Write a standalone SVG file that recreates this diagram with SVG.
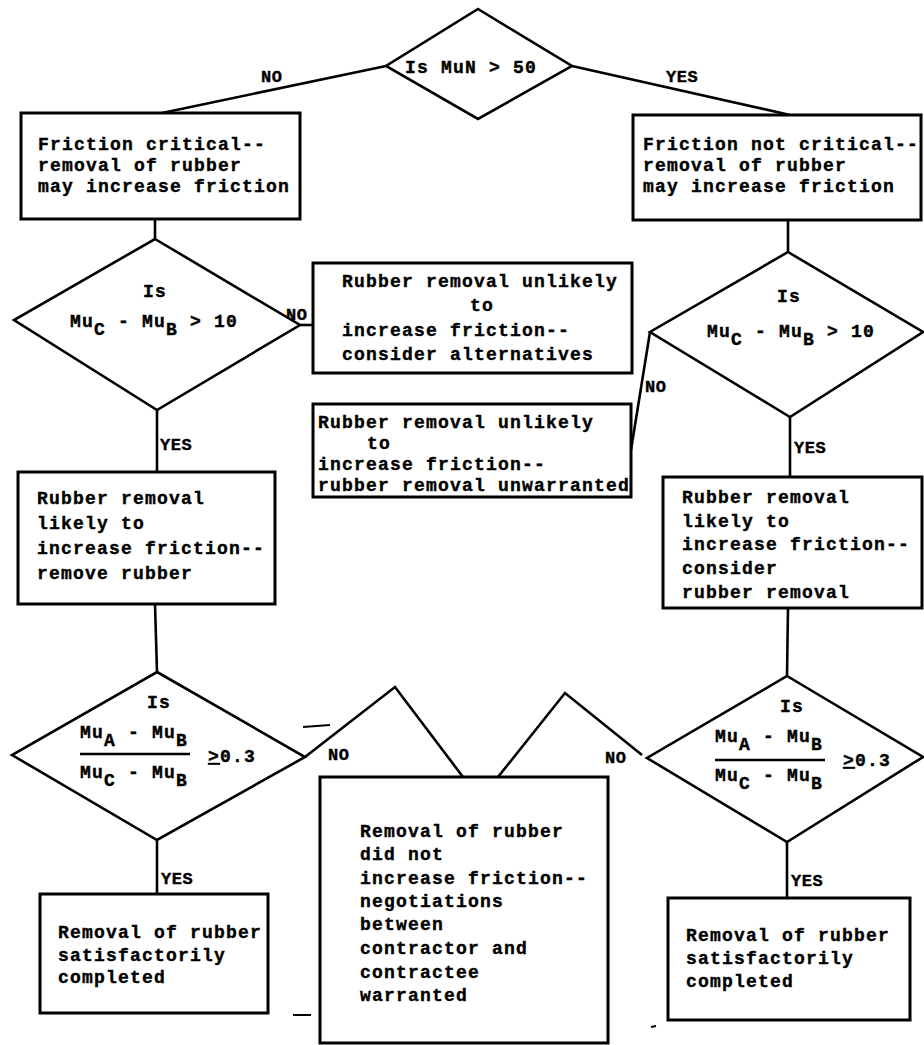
<svg xmlns="http://www.w3.org/2000/svg" width="924" height="1045" viewBox="0 0 924 1045">
  <defs>
    <style>
      .box { fill: #fff; stroke: #000; stroke-width: 3; }
      .dia { fill: #fff; stroke: #000; stroke-width: 2.6; stroke-linejoin: miter; }
      .conn line, .conn polyline { fill: none; stroke: #000; stroke-width: 2.6; }
      .mark { stroke: #000; stroke-width: 2; }
      text { font-family: "Liberation Mono", "DejaVu Sans Mono", monospace; font-weight: bold; font-size: 18px; letter-spacing: 1.2px; fill: #000; stroke: #000; stroke-width: 0.4; }
      .lbl { font-size: 17px; letter-spacing: 0.5px; }
      .fr { stroke: #000; stroke-width: 2.4; }
    </style>
  </defs>

  <rect width="924" height="1045" fill="#fff"/>

  <!-- connectors -->
  <g id="connectors" class="conn">
    <line x1="386" y1="66" x2="162" y2="113"/>
    <line x1="572" y1="66" x2="790" y2="115"/>
    <line x1="155" y1="219" x2="155" y2="239"/>
    <line x1="788" y1="220" x2="788" y2="252"/>
    <line x1="300" y1="325" x2="313" y2="325"/>
    <line x1="157" y1="410" x2="157" y2="472"/>
    <line x1="650" y1="332" x2="631" y2="450"/>
    <line x1="790" y1="417" x2="790" y2="477"/>
    <line x1="155" y1="604" x2="157" y2="672"/>
    <line x1="788" y1="608" x2="787" y2="676"/>
    <polyline points="305,757 395,687 463,777"/>
    <polyline points="498,777 565,693 642,755"/>
    <line x1="157" y1="840" x2="157" y2="894"/>
    <line x1="787" y1="842" x2="787" y2="898"/>
    <!-- branch labels -->
    <text class="lbl" x="261" y="82">NO</text>
    <text class="lbl" x="666" y="82">YES</text>
    <text class="lbl" x="286" y="320">NO</text>
    <text class="lbl" x="645" y="392">NO</text>
    <text class="lbl" x="160" y="450">YES</text>
    <text class="lbl" x="794" y="453">YES</text>
    <text class="lbl" x="328" y="760">NO</text>
    <text class="lbl" x="605" y="763">NO</text>
    <text class="lbl" x="161" y="884">YES</text>
    <text class="lbl" x="791" y="886">YES</text>
  </g>

  <!-- decision: MuN -->
  <g id="d-mun">
    <polygon class="dia" points="478,9 572,66 478,119 386,66"/>
    <text x="471" y="73" text-anchor="middle">Is MuN &gt; 50</text>
  </g>

  <g id="b-critical">
    <rect class="box" x="21" y="113" width="279" height="106"/>
    <text x="38" y="150">Friction critical--</text>
    <text x="38" y="171">removal of rubber</text>
    <text x="38" y="192">may increase friction</text>
  </g>

  <g id="b-not-critical">
    <rect class="box" x="633" y="115" width="288" height="105"/>
    <text x="643" y="150">Friction not critical--</text>
    <text x="643" y="171">removal of rubber</text>
    <text x="643" y="192">may increase friction</text>
  </g>

  <!-- decision: MuC - MuB, left -->
  <g id="d-cb-left">
    <polygon class="dia" points="155,239 300,325 157,410 14,320"/>
    <text x="143" y="297">Is</text>
    <text x="70" y="327">Mu<tspan dy="8">C</tspan><tspan dy="-8"> - Mu</tspan><tspan dy="8">B</tspan><tspan dy="-8"> &gt; 10</tspan></text>
  </g>

  <!-- decision: MuC - MuB, right -->
  <g id="d-cb-right">
    <polygon class="dia" points="788,252 923,332 790,417 650,332"/>
    <text x="777" y="302">Is</text>
    <text x="707" y="337">Mu<tspan dy="8">C</tspan><tspan dy="-8"> - Mu</tspan><tspan dy="8">B</tspan><tspan dy="-8"> &gt; 10</tspan></text>
  </g>

  <g id="b-alternatives">
    <rect class="box" x="313" y="263" width="319" height="110"/>
    <text x="342" y="287">Rubber removal unlikely</text>
    <text x="470" y="311">to</text>
    <text x="342" y="336">increase friction--</text>
    <text x="342" y="360">consider alternatives</text>
  </g>

  <g id="b-unwarranted">
    <rect class="box" x="313" y="404" width="318" height="93"/>
    <text x="318" y="428">Rubber removal unlikely</text>
    <text x="367" y="449">to</text>
    <text x="318" y="470">increase friction--</text>
    <text x="318" y="491">rubber removal unwarranted</text>
  </g>

  <g id="b-remove">
    <rect class="box" x="18" y="472" width="257" height="132"/>
    <text x="37" y="504">Rubber removal</text>
    <text x="37" y="529">likely to</text>
    <text x="37" y="554">increase friction--</text>
    <text x="37" y="579">remove rubber</text>
  </g>

  <g id="b-consider">
    <rect class="box" x="663" y="477" width="259" height="131"/>
    <text x="682" y="503">Rubber removal</text>
    <text x="682" y="527">likely to</text>
    <text x="682" y="550">increase friction--</text>
    <text x="682" y="574">consider</text>
    <text x="682" y="598">rubber removal</text>
  </g>

  <!-- decision: ratio, left -->
  <g id="d-ratio-left">
    <polygon class="dia" points="157,672 305,757 157,840 12,755"/>
    <text x="147" y="708">Is</text>
    <text x="80" y="738">Mu<tspan dy="8">A</tspan><tspan dy="-8"> - Mu</tspan><tspan dy="8">B</tspan></text>
    <line class="fr" x1="80" y1="754" x2="190" y2="754"/>
    <text x="80" y="778">Mu<tspan dy="8">C</tspan><tspan dy="-8"> - Mu</tspan><tspan dy="8">B</tspan></text>
    <text x="208" y="762"><tspan text-decoration="underline">&gt;</tspan>0.3</text>
  </g>

  <!-- decision: ratio, right -->
  <g id="d-ratio-right">
    <polygon class="dia" points="787,676 923,757 787,842 647,758"/>
    <text x="780" y="712">Is</text>
    <text x="715" y="742">Mu<tspan dy="8">A</tspan><tspan dy="-8"> - Mu</tspan><tspan dy="8">B</tspan></text>
    <line class="fr" x1="715" y1="760" x2="825" y2="760"/>
    <text x="715" y="781">Mu<tspan dy="8">C</tspan><tspan dy="-8"> - Mu</tspan><tspan dy="8">B</tspan></text>
    <text x="843" y="766"><tspan text-decoration="underline">&gt;</tspan>0.3</text>
  </g>

  <g id="b-negotiate">
    <rect class="box" x="320" y="777" width="288" height="266"/>
    <text x="360" y="837">Removal of rubber</text>
    <text x="360" y="860">did not</text>
    <text x="360" y="884">increase friction--</text>
    <text x="360" y="907">negotiations</text>
    <text x="360" y="930">between</text>
    <text x="360" y="954">contractor and</text>
    <text x="360" y="978">contractee</text>
    <text x="360" y="1001">warranted</text>
  </g>

  <g id="b-done-left">
    <rect class="box" x="40" y="894" width="228" height="119"/>
    <text x="58" y="938">Removal of rubber</text>
    <text x="58" y="961">satisfactorily</text>
    <text x="58" y="983">completed</text>
  </g>

  <g id="b-done-right">
    <rect class="box" x="668" y="898" width="242" height="122"/>
    <text x="686" y="941">Removal of rubber</text>
    <text x="686" y="964">satisfactorily</text>
    <text x="686" y="987">completed</text>
  </g>

  <!-- stray pen strokes -->
  <g id="marks">
    <line class="mark" x1="303" y1="727" x2="330" y2="725"/>
    <line class="mark" x1="293" y1="1015" x2="311" y2="1015"/>
    <line class="mark" x1="651" y1="1027" x2="656" y2="1026"/>
  </g>
</svg>
